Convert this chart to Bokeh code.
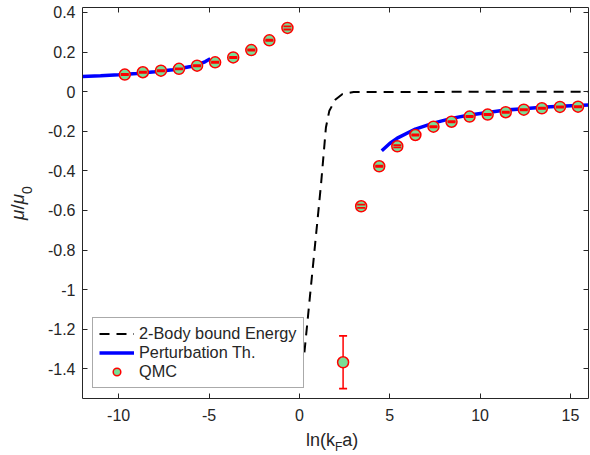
from bokeh.plotting import figure
from bokeh.layouts import row, column
from bokeh.models import (Range1d, LinearAxis, FixedTicker, PrintfTickFormatter,
                          Legend, LegendItem, Div)
from bokeh.embed import file_html
from bokeh.resources import INLINE

# ---------------- data ----------------
qmc_x = [-9.66, -8.66, -7.66, -6.66, -5.66, -4.66, -3.66, -2.66, -1.66, -0.66,
         2.42, 3.42, 4.42, 5.42, 6.42, 7.42, 8.42, 9.42, 10.42, 11.42, 12.42, 13.42, 14.42, 15.42]
qmc_y = [0.086, 0.098, 0.106, 0.115, 0.131, 0.148, 0.173, 0.210, 0.259, 0.322,
         -1.367, -0.579, -0.377, -0.276, -0.219, -0.177, -0.152, -0.126, -0.116, -0.104,
         -0.091, -0.084, -0.077, -0.076]
qmc_err = [0.003, 0.003, 0.003, 0.003, 0.003, 0.003, 0.003, 0.003, 0.003, 0.008,
           0.133, 0.008, 0.003, 0.006, 0.003, 0.003, 0.003, 0.003, 0.003, 0.003,
           0.003, 0.003, 0.003, 0.003]

pt_left_x = [-12.0, -11.0, -10.0, -9.0, -8.0, -7.0, -6.0, -5.5, -5.2, -4.93]
pt_left_y = [0.076, 0.080, 0.085, 0.092, 0.100, 0.111, 0.127, 0.140, 0.152, 0.166]
pt_right_x = [4.56, 5.0, 5.42, 6.42, 7.42, 8.42, 9.42, 10.42, 11.42, 12.42, 13.42, 14.42, 16.0]
pt_right_y = [-0.299, -0.262, -0.235, -0.189, -0.159, -0.135, -0.118, -0.105, -0.093,
              -0.086, -0.079, -0.074, -0.068]

bind_x = [0.28, 1.0, 1.2, 1.47, 1.66, 2.0, 2.39, 3.0, 16.0]
bind_y = [-1.317, -0.652, -0.467, -0.181, -0.096, -0.040, -0.012, -0.002, 0.0]

x_ticks = [-10, -5, 0, 5, 10, 15]
x_tick_labels = ["-10", "-5", "0", "5", "10", "15"]
y_ticks = [-1.4, -1.2, -1.0, -0.8, -0.6, -0.4, -0.2, 0.0, 0.2, 0.4]
y_tick_labels = ["-1.4", "-1.2", "-1", "-0.8", "-0.6", "-0.4", "-0.2", "0", "0.2", "0.4"]

legend_labels = ["2-Body bound Energy", "Perturbation Th.", "QMC"]

# ---------------- styling ----------------
FONT = "Liberation Sans"
TXT = "#262626"
AX = "#262626"
GREEN = "#78de96"

p = figure(width=550, height=428, output_backend="svg", toolbar_location=None,
           x_range=Range1d(-12, 16), y_range=Range1d(-1.55, 0.425),
           x_axis_location=None, y_axis_location=None,
           min_border_left=42, min_border_right=2, min_border_top=7, min_border_bottom=30,
           margin=0)
p.outline_line_color = None
p.background_fill_color = "white"
p.border_fill_color = "white"
for g in p.grid:
    g.visible = False


def make_axis(ticks, labels, show, standoff):
    ax = LinearAxis(ticker=FixedTicker(ticks=ticks),
                    formatter=PrintfTickFormatter(format="%g"),
                    major_label_overrides=dict(zip(ticks, labels)))
    ax.major_tick_in = 5
    ax.major_tick_out = 0
    ax.minor_tick_line_color = None
    ax.axis_line_color = AX
    ax.axis_line_width = 1
    ax.major_tick_line_color = AX
    ax.major_tick_line_width = 1
    ax.major_label_text_font = FONT
    if show:
        ax.major_label_text_color = TXT
        ax.major_label_text_font_size = "16px"
        ax.major_label_standoff = standoff
    else:
        ax.major_label_text_color = None
        ax.major_label_text_font_size = "1px"
        ax.major_label_standoff = 0
    return ax


p.add_layout(make_axis(x_ticks, x_tick_labels, True, 10), "below")
p.add_layout(make_axis(y_ticks, y_tick_labels, True, 7), "left")
p.add_layout(make_axis(x_ticks, x_tick_labels, False, 0), "above")
p.add_layout(make_axis(y_ticks, y_tick_labels, False, 0), "right")

# ---------------- glyphs ----------------
r_bind = p.line(bind_x, bind_y, line_color="black", line_width=2, line_dash="10 7")
r_pt = p.line(pt_left_x, pt_left_y, line_color="#0000ff", line_width=3.5)
p.line(pt_right_x, pt_right_y, line_color="#0000ff", line_width=3.5)

qmc_lo = [y - e for y, e in zip(qmc_y, qmc_err)]
qmc_hi = [y + e for y, e in zip(qmc_y, qmc_err)]
p.segment(x0=qmc_x, y0=qmc_lo, x1=qmc_x, y1=qmc_hi, line_color="red", line_width=1.5)
r_q = p.scatter(qmc_x, qmc_y, marker="circle", size=11, fill_color=GREEN,
                line_color="red", line_width=1.5)
p.scatter(qmc_x, qmc_hi, marker="dash", size=8, line_color="red", line_width=1.8)
p.scatter(qmc_x, qmc_lo, marker="dash", size=8, line_color="red", line_width=1.8)

legend = Legend(items=[LegendItem(label=legend_labels[0], renderers=[r_bind]),
                       LegendItem(label=legend_labels[1], renderers=[r_pt]),
                       LegendItem(label=legend_labels[2], renderers=[r_q])],
                location=(10, 10))
legend.label_text_font = FONT
legend.label_text_font_size = "16.3px"
legend.label_text_color = TXT
legend.border_line_color = "#555555"
legend.border_line_width = 1
legend.background_fill_color = "white"
legend.background_fill_alpha = 1
legend.glyph_width = 35
legend.glyph_height = 19
legend.label_height = 19
legend.label_standoff = 5
legend.padding = 6
legend.spacing = 0
legend.margin = 0
p.add_layout(legend, "center")

# ---------------- axis titles (real text, in HTML) ----------------
xlabel_html = ('<div style="margin-left:266px; margin-top:3px; white-space:nowrap; '
               'font-family:\'Liberation Sans\'; font-size:18px; line-height:18px; color:#262626;">'
               'ln(k<span style="font-size:12px; position:relative; top:5px;">F</span>a)</div>')
ylabel_html = ('<div style="margin-left:8px; margin-top:220px; white-space:nowrap; width:max-content; '
               'transform-origin:0 0; transform:rotate(-90deg); '
               'font-family:\'Liberation Sans\'; font-size:19px; line-height:19px; color:#262626;">'
               '<span style="font-style:italic;">μ</span>/<span style="font-style:italic;">μ</span>'
               '<span style="font-size:14px; position:relative; top:8px;">0</span></div>')

div_x = Div(text=xlabel_html, width=550, height=27, margin=0)
div_y = Div(text=ylabel_html, width=40, height=455, margin=0)

layout = row(div_y, column(p, div_x, spacing=0, margin=0), spacing=0, margin=0)

open("out.html", "w").write(file_html(layout, INLINE))
